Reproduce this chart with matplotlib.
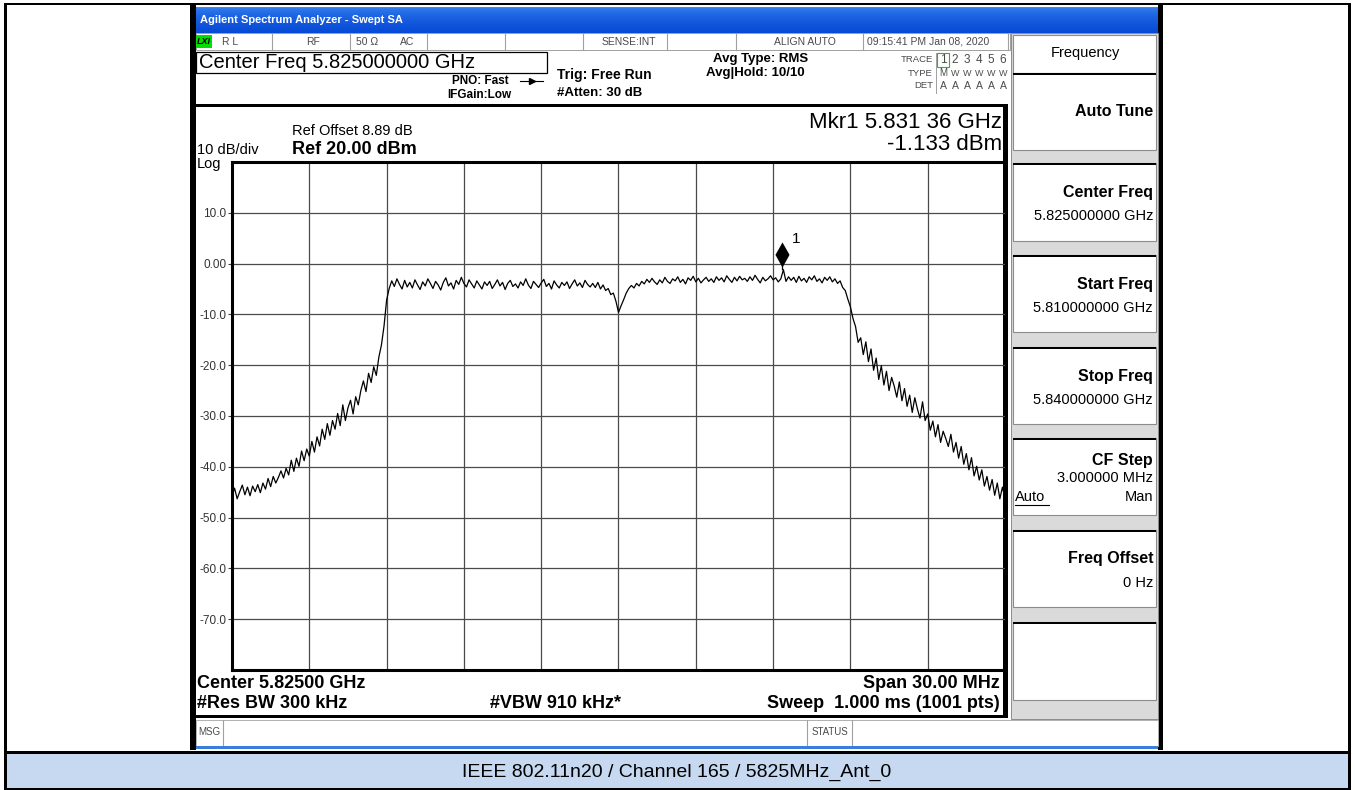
import numpy as np
import matplotlib
matplotlib.use('Agg')
import matplotlib.pyplot as plt
from matplotlib.patches import Rectangle

plt.rcParams['font.family'] = ['Liberation Sans', 'DejaVu Sans']

###########################################################################
# DATA
###########################################################################
start_ghz = 5.810
stop_ghz = 5.840
ref_dbm = 20.0
db_per_div = 10.0
n_div = 10

# trace 1, one reading every 0.1 MHz from start to stop, dBm
trace_dbm = [
    -45.8, -44.2, -46.3, -44.9, -43.6, -45.5, -44.0, -45.7, -43.8, -44.9,
    -43.5, -45.1, -43.2, -44.4, -42.3, -43.9, -41.9, -43.2, -42.1, -40.8,
    -42.2, -40.3, -41.6, -38.7, -40.9, -38.3, -39.9, -36.9, -38.8, -36.5,
    -37.9, -35.0, -37.1, -34.1, -35.9, -32.6, -34.6, -31.5, -33.8, -30.9,
    -32.6, -29.5, -31.9, -27.8, -30.9, -28.4, -26.9, -29.6, -26.2, -27.8,
    -25.0, -23.1, -25.2, -21.6, -23.4, -20.3, -22.0, -18.4, -16.0, -12.3,
    -7.2, -4.9, -3.4, -4.5, -3.0, -4.1, -5.0, -3.3, -4.6, -3.7,
    -4.8, -3.2, -4.2, -5.1, -3.6, -4.4, -3.0, -3.9, -4.9, -3.5,
    -4.2, -5.2, -3.7, -2.8, -4.4, -3.8, -5.0, -3.3, -4.1, -2.7,
    -3.9, -4.6, -3.2, -4.0, -4.8, -3.4, -4.2, -5.0, -3.6, -4.3,
    -3.5, -4.9, -4.1, -3.2, -4.4, -3.7, -5.1, -3.9, -3.3, -4.5,
    -4.0, -4.8, -3.6, -4.3, -3.0, -4.2, -4.9, -3.5, -4.1, -4.7,
    -3.8, -3.1, -4.5, -3.9, -5.0, -3.4, -4.2, -4.8, -3.7, -4.3,
    -3.6, -4.9, -4.0, -3.2, -4.4, -3.8, -4.7, -3.3, -4.1, -4.6,
    -3.9, -4.7, -3.7, -5.0, -4.2, -5.3, -4.9, -6.1, -5.8, -7.4,
    -9.6, -8.3, -7.1, -5.8, -4.9, -4.3, -4.8, -3.9, -4.4, -3.5,
    -4.0, -3.1, -3.7, -2.9, -3.6, -4.1, -3.2, -3.8, -2.7, -3.5,
    -3.9, -3.0, -3.4, -2.6, -3.7, -3.1, -4.0, -2.8, -3.3, -2.5,
    -3.6, -2.9, -3.8, -3.2, -2.7, -3.5, -3.0, -3.7, -2.6, -3.3,
    -2.8, -3.6, -2.4, -3.1, -3.7, -2.7, -3.4, -2.5, -3.2, -2.9,
    -3.5, -2.6, -3.3, -2.3, -3.1, -3.8, -2.7, -3.4, -3.0, -2.4,
    -3.2, -2.8, -3.6, -3.0, -1.2, -3.5, -2.6, -3.3, -2.7, -3.7,
    -2.5, -3.4, -2.9, -3.7, -2.6, -3.2, -2.4, -3.5, -3.0, -3.8,
    -2.7, -3.3, -2.6, -3.6, -3.0, -3.9, -3.4, -4.7, -5.3, -7.0,
    -8.5, -10.8, -12.4, -15.5, -14.6, -17.9, -15.4, -19.3, -16.8, -21.0,
    -18.6, -22.8, -20.1, -23.9, -21.2, -25.0, -22.4, -24.1, -26.3, -23.3,
    -27.0, -24.6, -28.1, -25.9, -29.3, -26.4, -28.6, -30.4, -27.2, -30.9,
    -29.6, -32.8, -31.0, -34.1, -31.7, -35.2, -33.0, -34.4, -36.0, -33.6,
    -37.1, -35.2, -38.3, -36.0, -39.5, -37.4, -40.6, -38.2, -41.8, -39.9,
    -42.6, -40.6, -43.8, -41.9, -44.6, -42.5, -45.6, -43.2, -46.3, -44.0,
    -46.2,
]

marker_ghz = 5.83136
marker_dbm = -1.133
marker_name = '1'

y_tick_labels = ['10.0', '0.00', '-10.0', '-20.0', '-30.0', '-40.0', '-50.0', '-60.0', '-70.0']

window_title = 'Agilent Spectrum Analyzer - Swept SA'
caption = 'IEEE 802.11n20 / Channel 165 / 5825MHz_Ant_0'

softkey_titles = ['Auto Tune', 'Center Freq', 'Start Freq', 'Stop Freq', 'CF Step', 'Freq Offset']
softkey_values = ['', '5.825000000 GHz', '5.810000000 GHz', '5.840000000 GHz', '3.000000 MHz', '0 Hz']

###########################################################################
# FIGURE, one pixel axes for the screen furniture
###########################################################################
W, H = 1355, 790
fig = plt.figure(figsize=(W / 100.0, H / 100.0), dpi=100)
bg = fig.add_axes([0, 0, 1, 1])


def box(x0, y0, x1, y1, fc='none', ec='none', lw=0, z=1):
    bg.add_patch(Rectangle((x0, y0), x1 - x0, y1 - y0, facecolor=fc,
                           edgecolor=ec, linewidth=lw, zorder=z))


def txt(x, y, s, size, weight='normal', ha='left', color='black', **kw):
    bg.text(x, y, s, fontsize=size, fontweight=weight, ha=ha, va='center',
            color=color, zorder=5, **kw)


# outer table
box(5, 752, 1350, 790, fc='#c6d9f1')
box(4, 3, 1351, 5, fc='black')
box(4, 3, 7, 790, fc='black')
box(1348, 3, 1351, 790, fc='black')
box(4, 751, 1351, 754, fc='black')
box(4, 788, 1351, 790, fc='black')
txt(677, 772, caption, 14, ha='center')

# screenshot frame
box(190, 5, 1163, 750, fc='white')
box(190, 5, 196, 750, fc='black')
box(1158, 5, 1163, 750, fc='black')

# title bar gradient
top = np.array([0x3e, 0x88, 0xf2]) / 255.0
bot = np.array([0x06, 0x4a, 0xd6]) / 255.0
k = np.linspace(0, 1, 26)[:, None]
grad = (top * (1 - k ** 0.5) + bot * k ** 0.5)[:, None, :]
bg.imshow(grad, extent=(196, 1158, 33, 7), aspect='auto', interpolation='bilinear', zorder=2)
txt(200, 20, window_title, 8, 'bold', color='white')

# status row
box(196, 33, 1010, 50, fc='white', ec='#a0a0a0', lw=0.7)
for sx in [272, 350, 427, 505, 583, 667, 736, 863, 1008]:
    bg.plot([sx, sx], [33, 50], color='#a0a0a0', lw=0.8, zorder=3)
box(196, 35, 212, 48, fc='#00dd00', z=3)
txt(204, 41.5, 'LXI', 6.5, 'bold', ha='center', style='italic')
grey = '#4a4a4a'
txt(222, 42, 'R L', 7.5, color=grey)
txt(313, 42, 'RF', 7.5, ha='center', color=grey)
txt(367, 42, '50 \u03a9', 7.5, ha='center', color=grey)
txt(407, 42, 'AC', 7.5, ha='center', color=grey)
txt(602, 42, 'SENSE:INT', 7.5, color=grey)
txt(805, 42, 'ALIGN AUTO', 7.5, ha='center', color=grey)
txt(867, 42, '09:15:41 PM Jan 08, 2020', 7.5, color=grey)

# header
box(196, 52, 547, 73, ec='black', lw=0.9, z=3)
txt(199, 62.5, 'Center Freq 5.825000000 GHz', 14.5)
txt(452, 81, 'PNO: Fast', 8.5, 'bold')
bg.plot([520, 543], [81, 81], color='black', lw=0.8, zorder=4)
bg.plot([532], [81], marker='>', color='black', ms=4, zorder=4)
txt(447, 95, 'IFGain:Low', 8.5, 'bold')
txt(557, 75, 'Trig: Free Run', 10, 'bold')
txt(557, 93, '#Atten: 30 dB', 9.5, 'bold')
txt(761, 59, 'Avg Type: RMS', 9.5, 'bold', ha='center')
txt(755, 73, 'Avg|Hold: 10/10', 9.5, 'bold', ha='center')

txt(933, 60, 'TRACE', 6.8, ha='right', color=grey)
txt(933, 73, 'TYPE', 6.8, ha='right', color=grey)
txt(933, 86, 'DET', 6.8, ha='right', color=grey)
box(937, 53, 949, 67, ec='#22bb22', lw=0.8, z=3)
bg.plot([936, 936], [53, 93], color='#a0a0a0', lw=0.7, zorder=3)
for i, cx in enumerate([943, 955, 967, 979, 991, 1003]):
    txt(cx, 60, str(i + 1), 8.5, ha='center', color=grey)
    txt(cx, 73, 'M' if i == 0 else 'W', 7 if i == 0 else 6.5, ha='center', color=grey)
    txt(cx, 86, 'A', 7.5, ha='center', color=grey)

# display area frame
box(196, 104, 1008, 107, fc='black', z=3)
box(196, 715, 1008, 718, fc='black', z=3)
box(1003, 104, 1008, 718, fc='black', z=3)

txt(292, 131, 'Ref Offset 8.89 dB', 10.5)
txt(292, 149, 'Ref 20.00 dBm', 13, 'bold')
txt(197, 150, '10 dB/div', 10.5)
txt(197, 164, 'Log', 10.5)
txt(1002, 122, 'Mkr1 5.831 36 GHz', 16, ha='right')
txt(1002, 144, '-1.133 dBm', 16, ha='right')

txt(197, 683, 'Center 5.82500 GHz', 13, 'bold')
txt(197, 704, '#Res BW 300 kHz', 13, 'bold')
txt(490, 704, '#VBW 910 kHz*', 13, 'bold')
txt(1000, 683, 'Span 30.00 MHz', 13, 'bold', ha='right')
txt(1000, 704, 'Sweep  1.000 ms (1001 pts)', 13, 'bold', ha='right')

# message row
box(196, 720, 1158, 746, fc='white', ec='#b0b0b0', lw=0.7)
for sx in [223, 807, 852]:
    bg.plot([sx, sx], [720, 746], color='#a0a0a0', lw=0.8, zorder=3)
txt(198, 732, 'MSG', 7, color=grey)
txt(829.5, 732, 'STATUS', 7, ha='center', color=grey)
box(196, 746, 1158, 749, fc='#3b7ddd', z=3)

# softkey panel
box(1011, 33, 1158, 719, fc='#dadada', ec='#8c8c8c', lw=0.7)
box(1013, 35, 1156, 73, fc='white', ec='#8c8c8c', lw=0.8, z=2)
txt(1085, 53, 'Frequency', 10.5, ha='center')
key_tops = [73, 163, 255, 347, 438, 530, 622]
key_bots = [150, 241, 332, 424, 515, 607, 700]
for yt, yb in zip(key_tops, key_bots):
    box(1013, yt, 1156, yb, fc='white', ec='#8c8c8c', lw=0.8, z=2)
    box(1013, yt, 1156, yt + 2, fc='black', z=3)
for i, (name, val) in enumerate(zip(softkey_titles, softkey_values)):
    yt = key_tops[i]
    if name == 'Auto Tune':
        txt(1153, yt + 39, name, 11.5, 'bold', ha='right')
    elif name == 'CF Step':
        txt(1153, yt + 22, name, 11.5, 'bold', ha='right')
        txt(1153, yt + 40, val, 10.5, ha='right')
        txt(1015, yt + 59, 'Auto', 10.5)
        bg.plot([1015, 1049], [yt + 67, yt + 67], color='black', lw=0.8, zorder=4)
        txt(1153, yt + 59, 'Man', 10.5, ha='right')
    else:
        txt(1153, yt + 29, name, 11.5, 'bold', ha='right')
        txt(1153, yt + 53, val, 10.5, ha='right')

bg.set_xlim(0, W)
bg.set_ylim(H, 0)
bg.axis('off')

###########################################################################
# TRACE AXES
###########################################################################
pl, pr, pt, pb = 232, 1005, 162, 670
ax = fig.add_axes([pl / W, (H - pb) / H, (pr - pl) / W, (pb - pt) / H])
ax.set_facecolor('none')

freq_ghz = np.linspace(start_ghz, stop_ghz, len(trace_dbm))
ax.plot(freq_ghz, trace_dbm, color='black', lw=0.9, zorder=3)

bottom_dbm = ref_dbm - n_div * db_per_div
ax.set_xlim(start_ghz, stop_ghz)
ax.set_ylim(bottom_dbm, ref_dbm)

step = (stop_ghz - start_ghz) / n_div
ax.set_xticks([start_ghz + step * i for i in range(1, n_div)])
ax.set_xticklabels([])
ax.set_yticks([ref_dbm - db_per_div * i for i in range(1, n_div)])
ax.set_yticklabels(y_tick_labels)
ax.tick_params(axis='x', length=0)
ax.tick_params(axis='y', length=3, width=0.8, color='#404040', pad=1,
               labelsize=8.5, labelcolor='#333333')
ax.grid(True, color='#4a4a4a', lw=0.9)
ax.set_axisbelow(True)
for side in ['top', 'left', 'bottom']:
    ax.spines[side].set_linewidth(2.2)
ax.spines['right'].set_visible(False)

# marker 1: diamond sitting on top of the marked point
diamond = [(0, 0.07), (0.26, 0.54), (0, 1.0), (-0.26, 0.54), (0, 0.07)]
ax.plot([marker_ghz], [marker_dbm], marker=diamond, ms=39, color='black',
        mew=0, zorder=4)
ax.plot([marker_ghz, marker_ghz], [marker_dbm, marker_dbm + 1.5], color='black', lw=0.9, zorder=4)
ax.annotate(marker_name, (marker_ghz, marker_dbm), xytext=(6.5, 21.6),
            textcoords='offset points', fontsize=11, va='center')

fig.savefig('out.png', dpi=100)
